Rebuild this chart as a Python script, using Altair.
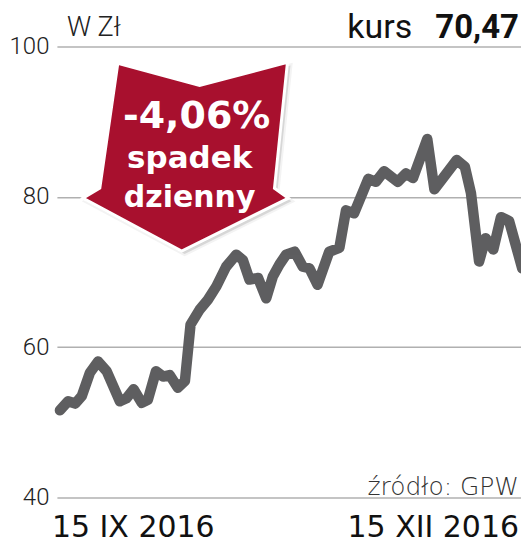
import altair as alt
import pandas as pd

# ---- data ----
days = [0, 1.6, 3.0, 4.3, 5.9, 7.5, 9.2, 11.8, 13.1, 14.5, 16.1, 17.3, 18.9, 20.3,
        21.6, 23.2, 24.6, 25.7, 27.5, 29.1, 30.8, 32.7, 34.7, 36.0, 37.3, 39.0, 40.6, 41.9,
        43.2, 44.5, 46.2, 47.8, 49.1, 50.7, 53.0, 55.0, 56.3, 57.9, 60.7, 62.2, 63.8,
        66.5, 68.1, 69.5, 72.3, 73.7, 78.1, 79.7, 80.9, 82.5, 83.8, 85.3, 86.8, 88.4, 91]
prices = [51.6, 52.8, 52.5, 53.5, 56.6, 58.1, 56.8, 52.8, 53.2, 54.4, 52.6, 53.0, 56.8, 56.1,
          56.3, 54.6, 55.5, 63.0, 65.0, 66.3, 68.1, 70.7, 72.3, 71.6, 69.0, 69.2, 66.5, 69.4,
          71.0, 72.3, 72.7, 70.7, 70.5, 68.3, 72.7, 73.2, 78.2, 77.8, 82.4, 82.0, 83.4,
          82.0, 83.1, 82.5, 87.7, 81.0, 84.9, 84.0, 80.5, 71.4, 74.5, 73.0, 77.3, 76.8, 70.47]
y_ticks = [40, 60, 80, 100]
unit_label = "W Zł"
kurs_label = "kurs"
kurs_value = "70,47"
change_label = "-4,06%"
change_text = ["spadek", "dzienny"]
source_label = "źródło: GPW"
start_label = "15 IX 2016"
end_label = "15 XII 2016"

# arrow badge outline (annotation shape, plot-area pixels)
arrow_shape = [[61, 17], [143, 39], [231, 16], [218, 142], [232, 152],
               [125, 205], [26, 152], [43, 142], [61, 17]]

df = pd.DataFrame({"day": days, "price": prices})

W, H = 465, 452

line = alt.Chart(df).mark_line(
    color="#5e5e60", strokeWidth=10.5, strokeCap="round", strokeJoin="round"
).encode(
    x=alt.X("day:Q", scale=alt.Scale(domain=[-0.6, 90.75], nice=False, zero=False), axis=None),
    y=alt.Y("price:Q", scale=alt.Scale(domain=[40, 100], nice=False, zero=False),
            axis=alt.Axis(values=y_ticks, title=None, domain=False, ticks=False,
                          grid=True, gridColor="#b0b0b0", gridWidth=1.5,
                          labelFont="Roboto", labelFontWeight=300, labelFontSize=24,
                          labelColor="#222222", labelPadding=8)),
)

def shape_data(points, dx=0, dy=0):
    return alt.Data(values=[{
        "type": "Feature", "properties": {},
        "geometry": {"type": "Polygon",
                     "coordinates": [[[p[0] + dx, p[1] + dy] for p in points]]},
    }])

shadow = alt.Chart(shape_data(arrow_shape, 3, 3)).mark_geoshape(
    fill="#9a9a9a", opacity=0.45, stroke="#bbbbbb", strokeWidth=4, strokeOpacity=0.4
).project(type="identity", scale=1, translate=[0, 0])

arrow = alt.Chart(shape_data(arrow_shape)).mark_geoshape(
    fill="#a8102e", stroke="white", strokeWidth=3
).project(type="identity", scale=1, translate=[0, 0])

def txt(text, x, y, align="left", font="Roboto", size=20, weight="normal", color="#222222"):
    return alt.Chart(pd.DataFrame({"t": [text]})).mark_text(
        align=align, baseline="alphabetic", font=font, fontSize=size,
        fontWeight=weight, color=color
    ).encode(x=alt.value(x), y=alt.value(y), text="t:N")

texts = [
    txt(unit_label, 10, -10, size=27, weight=300),
    txt(kurs_label, 291, -8, size=34, weight="normal", color="#111111"),
    txt(kurs_value, 463, -8, align="right", size=33, weight="bold", color="#111111"),
    txt(change_label, 140, 82, align="center", font="DejaVu Sans", size=38, weight="bold", color="white"),
    txt(change_text[0], 133, 122, align="center", font="DejaVu Sans", size=31, weight="bold", color="white"),
    txt(change_text[1], 133, 161, align="center", font="DejaVu Sans", size=30, weight="bold", color="white"),
    txt(source_label, 463, 449, align="right", font="DejaVu Sans", size=25, weight=200, color="#333333"),
    txt(start_label, -5, 492, font="DejaVu Sans", size=30, weight="normal", color="#111111"),
    txt(end_label, 463, 492, align="right", font="DejaVu Sans", size=30, weight="normal", color="#111111"),
]

chart = alt.layer(line, shadow, arrow, *texts).properties(
    width=W, height=H,
    padding={"left": 49, "top": 38, "right": 0, "bottom": 52},
    autosize=alt.AutoSizeParams(type="none"),
    background="white",
).configure_view(stroke=None)

chart.save("out.html", embed_options={"renderer": "svg", "actions": False})
